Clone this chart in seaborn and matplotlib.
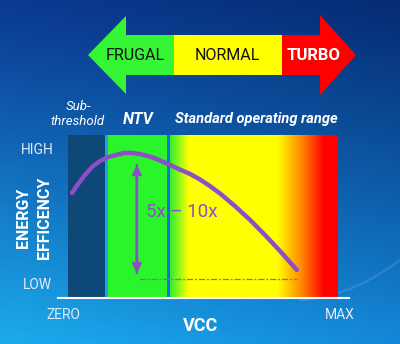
import numpy as np
import matplotlib
matplotlib.use("Agg")
import matplotlib.pyplot as plt
import seaborn as sns
from matplotlib.colors import LinearSegmentedColormap
from matplotlib.patches import Polygon, Rectangle

sns.set_theme(style="white")
plt.rcParams["font.family"] = ["Roboto", "DejaVu Sans"]

# Energy efficiency against supply voltage (VCC as % of max, efficiency as % of axis)
vcc = [4.8, 6.9, 9.3, 11.7, 14.4, 17.2, 19.9, 22.7, 25.4, 28.2, 31.6, 35.1,
       38.5, 41.9, 45.4, 48.8, 52.2, 55.7, 60.8, 66.0, 71.1, 76.3, 82.1]
efficiency = [64.4, 69.9, 75.5, 80.4, 84.0, 86.5, 87.7, 89.0, 89.0, 88.3, 86.8, 84.4,
              81.6, 78.8, 76.1, 72.7, 68.7, 64.1, 56.4, 47.9, 38.7, 28.8, 17.2]

# Operating regions along VCC
region_names = ["Sub-\nthreshold", "NTV", "Standard operating range"]
region_bounds = [(3.4, 16.2), (17.2, 37.5), (38.5, 95.9)]

# Efficiency gain between the peak and the high-voltage end
gain_label = "5x \u2013 10x"
gain_top = 81.6
gain_bottom = 15.3
gain_x = 27.1

# Axis wording
x_tick_pos = [1.7, 96.9]
x_tick_labels = ["ZERO", "MAX"]
y_tick_pos = [9.2, 92.0]
y_tick_labels = ["LOW", "HIGH"]

# Modes shown on the banner arrow
modes = ["FRUGAL", "NORMAL", "TURBO"]
mode_colors = ["#35f535", "#ffff00", "#ff0000"]
mode_text_colors = ["#111111", "#111111", "#ffffff"]

PURPLE = "#8e4ec6"
W, H = 400, 344

fig = plt.figure(figsize=(W / 100, H / 100), dpi=100)

# ---- background canvas in pixel units ----
bg = fig.add_axes([0, 0, 1, 1])
bg.set_xlim(0, W)
bg.set_ylim(H, 0)
bg.axis("off")

yy, xx = np.mgrid[0:1:200j, 0:1:200j]
tl = np.array([0x0a, 0x3a, 0x92]) / 255
tr = np.array([0x06, 0x2c, 0x74]) / 255
bl = np.array([0x1c, 0xac, 0xee]) / 255
br = np.array([0x14, 0x88, 0xd8]) / 255
v = yy[..., None] ** 1.1
h = xx[..., None]
grad = (tl * (1 - h) + tr * h) * (1 - v) + (bl * (1 - h) + br * h) * v
bg.imshow(grad, extent=[0, W, H, 0], aspect="auto", zorder=0)

# faint light swoosh at the lower right
sx = np.linspace(300, 400, 50)
bg.plot(sx, 300 - 0.0035 * (sx - 300) ** 2 - 0.05 * (sx - 300), color="white",
        alpha=0.12, lw=1.5, zorder=1)

# banner arrow: FRUGAL <- NORMAL -> TURBO
body_top, body_bot, mid = 35, 75, 55
bg.add_patch(Polygon([(88, mid), (126, 16), (126, body_top), (174, body_top),
                      (174, body_bot), (126, body_bot), (126, 94)],
                     closed=True, color=mode_colors[0], lw=0, zorder=2))
bg.add_patch(Rectangle((174, body_top), 108, body_bot - body_top,
                       color=mode_colors[1], lw=0, zorder=2))
bg.add_patch(Polygon([(282, body_top), (320, body_top), (320, 15), (356, mid),
                      (320, 95), (320, body_bot), (282, body_bot)],
                     closed=True, color=mode_colors[2], lw=0, zorder=2))
for name, cx, tc in zip(modes, [135, 227, 314], mode_text_colors):
    is_turbo = name == "TURBO"
    bg.text(cx, mid + 1, name, ha="center", va="center", color=tc,
            fontsize=12 if is_turbo else 11.5,
            fontweight="bold" if is_turbo else "normal", zorder=3)

# ---- main chart ----
ax = fig.add_axes([58 / W, (H - 298) / H, 291 / W, 163 / H])
ax.patch.set_alpha(0)

(s0, s1), (n0, n1), (g0, g1) = region_bounds
ax.axvspan(s0, s1, color="#0e4878", lw=0, zorder=1)
ax.axvspan(s1, n0, color="#1aa4e8", lw=0, zorder=1)
ax.axvspan(n0, n1, color="#2af52a", lw=0, zorder=1)
ax.axvspan(n1, g0, color="#1a6ed8", lw=0, zorder=1)

op_cmap = LinearSegmentedColormap.from_list(
    "op", [(0.0, "#30f030"), (0.11, "#ffff00"), (0.64, "#ffff00"),
           (0.78, "#ff8c00"), (0.92, "#ff0000"), (1.0, "#ff0000")])
ax.imshow(np.linspace(0, 1, 256)[None, :], cmap=op_cmap, aspect="auto",
          extent=[g0, g1, 0, 100], zorder=1)
ax.set_xlim(0, 100)
ax.set_ylim(0, 100)

sns.lineplot(x=vcc, y=efficiency, ax=ax, color=PURPLE, lw=3.2, sort=False,
             zorder=5, solid_capstyle="round", solid_joinstyle="round")

arrow_kw = dict(arrowstyle="-|>", color=PURPLE, lw=1.8, mutation_scale=13,
                shrinkA=0, shrinkB=0)
ax.annotate("", xy=(gain_x, gain_top), xytext=(gain_x, gain_bottom),
            arrowprops=arrow_kw, zorder=6)
ax.annotate("", xy=(gain_x, gain_bottom), xytext=(gain_x, gain_top),
            arrowprops=arrow_kw, zorder=6)
ax.plot([gain_x + 0.7, vcc[-1]], [11.7, 11.7], color="#9a60c0", lw=0.9,
        ls=(0, (5, 1.5, 1.5, 1.5)), zorder=4)
ax.text(gain_x + 3.1, 52.5, gain_label, color=PURPLE, fontsize=13.5,
        ha="left", va="center", zorder=6)

# region titles above the bands
bg.text(78, 114, region_names[0], ha="center", va="center", color="white",
        fontsize=9.5, style="italic", linespacing=1.15)
bg.text(138, 119, region_names[1], ha="center", va="center", color="white",
        fontsize=11.5, style="italic", fontweight="bold")
bg.text(256, 119, region_names[2], ha="center", va="center", color="white",
        fontsize=10.5, style="italic", fontweight="bold")

# axes styling
for side in ["top", "right", "left"]:
    ax.spines[side].set_visible(False)
ax.spines["bottom"].set_color("white")
ax.spines["bottom"].set_linewidth(1.5)
ax.spines["bottom"].set_zorder(7)

ax.set_xticks(x_tick_pos, x_tick_labels)
ax.set_yticks(y_tick_pos, y_tick_labels)
ax.tick_params(axis="both", length=0, colors="#e4ecf4", labelsize=10)
ax.tick_params(axis="x", pad=7)
ax.tick_params(axis="y", pad=15)
for lbl in ax.get_yticklabels():
    lbl.set_horizontalalignment("center")

ax.set_xlabel("VCC", color="white", fontsize=13, fontweight="bold")
ax.xaxis.set_label_coords((201 - 58) / 291, (298 - 326) / 163)
ax.xaxis.label.set_va("center")
ax.set_ylabel("ENERGY\nEFFICENCY", color="white", fontsize=11.5,
              fontweight="bold", linespacing=1.45)
ax.yaxis.set_label_coords((34 - 58) / 291, (298 - 218) / 163)
ax.yaxis.label.set_va("center")

fig.savefig("out.png", dpi=100)
